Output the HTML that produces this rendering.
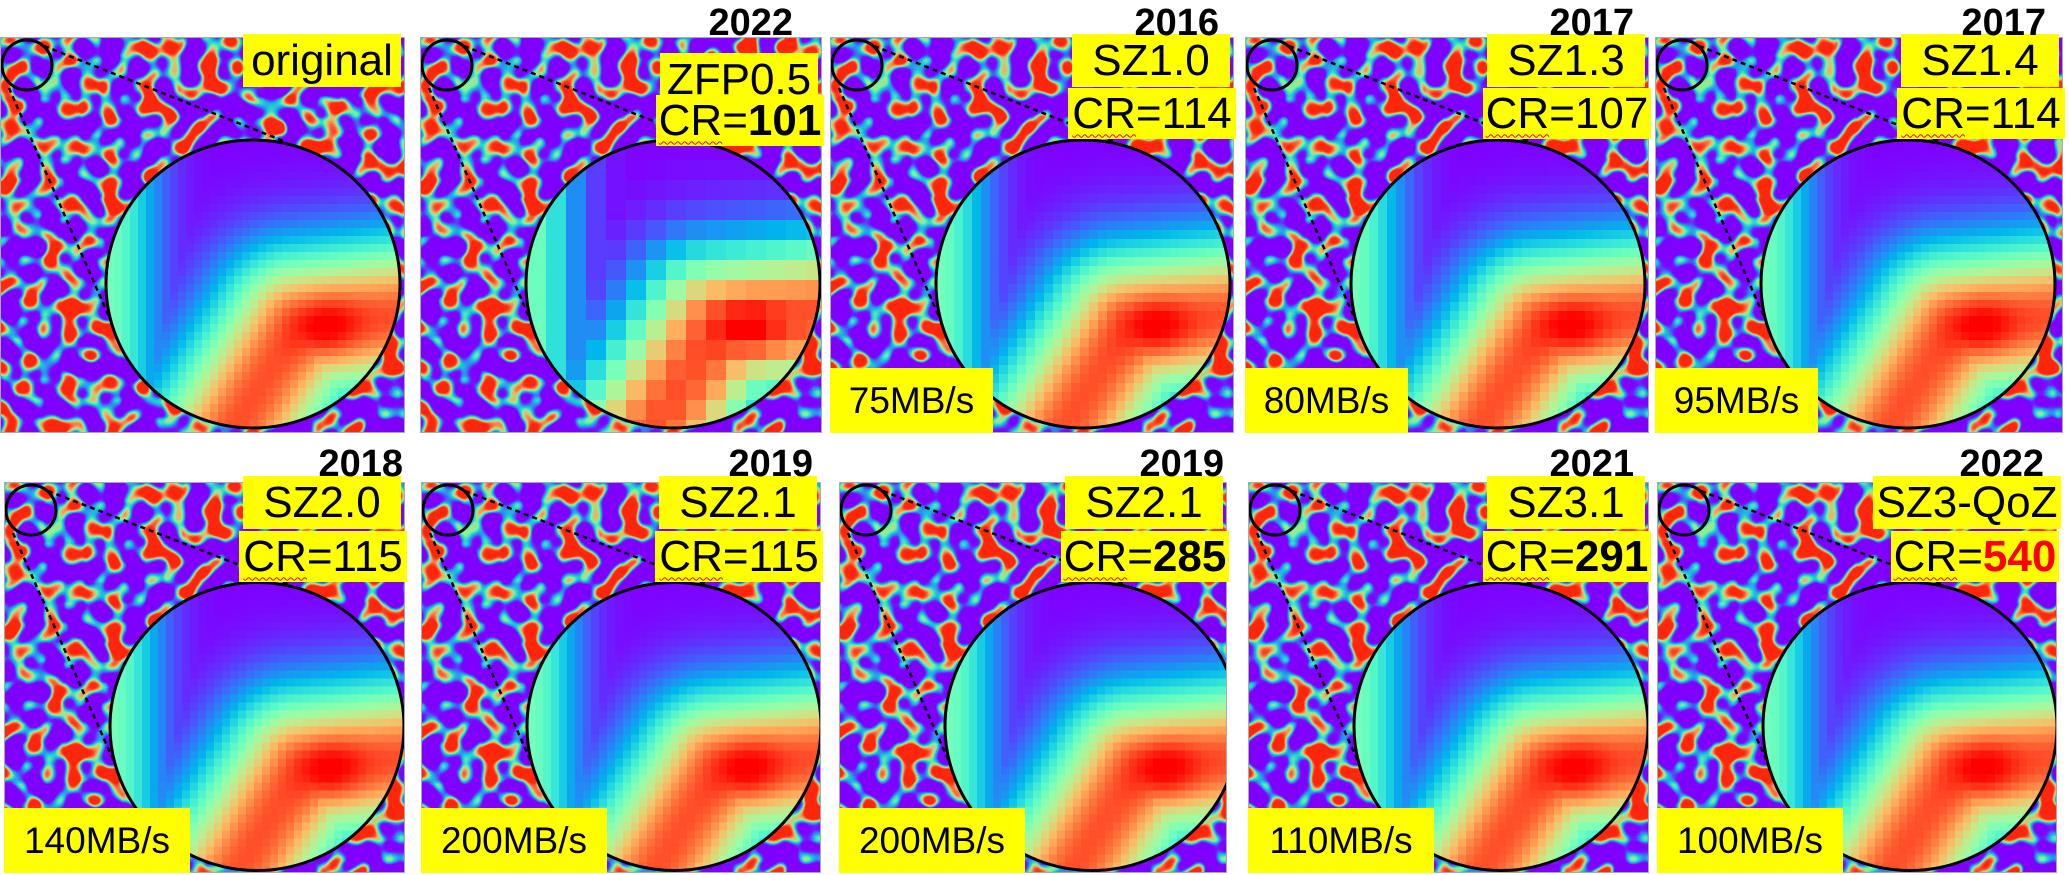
<!DOCTYPE html>
<html><head><meta charset="utf-8">
<style>
html,body{margin:0;padding:0;background:#fff;}
body{width:2069px;height:875px;position:relative;overflow:hidden;font-family:"Liberation Sans",sans-serif;}
.panel{position:absolute;border:1px solid #aaa;box-sizing:border-box;overflow:hidden;}
.panel svg{position:absolute;left:0;top:0;}
.box{position:absolute;background:#ffff00;color:#000;display:flex;align-items:center;justify-content:center;white-space:nowrap;line-height:1;}
.name{font-size:44px;}
.cr{font-size:44px;}
.cr .w{text-decoration:underline wavy #e00;text-decoration-thickness:1px;text-underline-offset:6px;}
.speed{font-size:37px;}
.year{position:absolute;font-weight:bold;font-size:38px;line-height:1;color:#000;}
</style></head>
<body>
<svg width="0" height="0" style="position:absolute">
<defs>
<filter id="tex" filterUnits="userSpaceOnUse" x="0" y="0" width="420" height="420" color-interpolation-filters="sRGB">
<feTurbulence type="fractalNoise" baseFrequency="0.05" numOctaves="1" seed="7" result="t"/>
<feColorMatrix type="matrix" values="1 0 0 0 0 1 0 0 0 0 1 0 0 0 0 0 0 0 0 1"/>
<feComponentTransfer>
<feFuncR type="linear" slope="4" intercept="-1.55"/><feFuncG type="linear" slope="4" intercept="-1.55"/><feFuncB type="linear" slope="4" intercept="-1.55"/>
</feComponentTransfer>
<feComponentTransfer>
<feFuncR type="table" tableValues="0.5 0.5 0.5 0.5 0.45 0.2 0.1 0.5 0.95 1 1"/>
<feFuncG type="table" tableValues="0 0 0 0 0.1 0.5 0.8 0.97 0.7 0.35 0.15"/>
<feFuncB type="table" tableValues="1 1 1 1 1 0.95 0.85 0.6 0.4 0.2 0.05"/>
</feComponentTransfer>
</filter>
</defs>
</svg>
<script>
// panel label data
const names=["original","ZFP0.5","SZ1.0","SZ1.3","SZ1.4","SZ2.0","SZ2.1","SZ2.1","SZ3.1","SZ3-QoZ"];
const years=["","2022","2016","2017","2017","2018","2019","2019","2021","2022"];
const crs=["","101","114","107","114","115","115","285","291","540"];
const crBold=[false,true,false,false,false,false,false,true,true,true];
const speeds=["","","75MB/s","80MB/s","95MB/s","140MB/s","200MB/s","200MB/s","110MB/s","100MB/s"];
// layout
const PX=[0,420,830,1245,1655,4,421,839,1248,1657];
const PY=[37,37,37,37,37,482,482,482,482,482];
const PW=[405,402,404,404,408,401,400,388,401,400];
const PH=[396,396,396,396,396,391,391,391,391,391];
const yearRight=[0,29,15,15,17,2,8,3,15,13];
const cell=[8,20,9,9,8,8,8,8,8,8];
const NS="http://www.w3.org/2000/svg";
function cmap(t){t=Math.max(0,Math.min(1,t));
 const r=Math.min(1,Math.abs(2*t-0.5)),g=Math.sin(Math.PI*t),b=Math.cos(Math.PI*t/2);
 return "rgb("+Math.round(r*255)+","+Math.round(g*255)+","+Math.round(b*255)+")";}
function segd(px,py,ax,ay,bx,by){const dx=bx-ax,dy=by-ay;let t=((px-ax)*dx+(py-ay)*dy)/(dx*dx+dy*dy);t=Math.max(0,Math.min(1,t));const x=ax+t*dx-px,y=ay+t*dy-py;return Math.sqrt(x*x+y*y);}
function field(u,v){
 const d=Math.min(segd(u,v,1.2,0.2,0.3,0.3),segd(u,v,0.3,0.3,-0.25,1.2));
 let val=0.9*Math.exp(-Math.pow(d/0.55,2));
 const pk=0.12*Math.exp(-(Math.pow(u-0.5,2)+Math.pow(v-0.3,2))/0.05);
 val+=pk;
 const left=0.48*Math.exp(-Math.pow((u+1)/0.35,2));
 const low=0.18*Math.max(0,Math.min(1,(v+0.1)*2))*Math.max(0,Math.min(1,(0.3-u)*2));
 return Math.max(val,left,low);
}
for(let i=0;i<10;i++){
 const p=document.createElement('div');
 p.className='panel';
 
 
 p.style.left=PX[i]+'px';p.style.top=PY[i]+'px';p.style.width=PW[i]+'px';p.style.height=PH[i]+'px';
 const w=PW[i],h=PH[i];
 const s=document.createElementNS(NS,'svg');
 s.setAttribute('width',w);s.setAttribute('height',h);
 
 
 const bg=document.createElementNS(NS,'rect');
 bg.setAttribute('x',0);bg.setAttribute('y',0);bg.setAttribute('width',w);bg.setAttribute('height',h);
 bg.setAttribute('fill','#8000ff');bg.setAttribute('filter','url(#tex)');
 
 
 s.appendChild(bg);
 const cx=252,cy=h/2+48,rx=147,ry=144;
 const cp=document.createElementNS(NS,'clipPath');cp.setAttribute('id','cp'+i);
 const ce=document.createElementNS(NS,'ellipse');ce.setAttribute('cx',cx);ce.setAttribute('cy',cy);ce.setAttribute('rx',rx);ce.setAttribute('ry',ry);
 cp.appendChild(ce);s.appendChild(cp);
 const g=document.createElementNS(NS,'g');g.setAttribute('clip-path','url(#cp'+i+')');
 
 
 const c=cell[i];
 for(let y=cy-ry;y<cy+ry;y+=c){for(let x=cx-rx;x<cx+rx;x+=c){
  const u=(x+c/2-cx)/rx,v=(y+c/2-cy)/ry;
  const r=document.createElementNS(NS,'rect');
  r.setAttribute('x',x);r.setAttribute('y',y);r.setAttribute('width',c+0.6);r.setAttribute('height',c+0.6);
  r.setAttribute('fill',cmap(field(u,v)));
  g.appendChild(r);}}
 s.appendChild(g);
 const el=document.createElementNS(NS,'ellipse');
 el.setAttribute('cx',cx);el.setAttribute('cy',cy);el.setAttribute('rx',rx);el.setAttribute('ry',ry);
 el.setAttribute('fill','none');el.setAttribute('stroke','#000');el.setAttribute('stroke-width','3');
 
 
 s.appendChild(el);
 const sc=document.createElementNS(NS,'ellipse');
 sc.setAttribute('cx',26);sc.setAttribute('cy',27);sc.setAttribute('rx',25);sc.setAttribute('ry',25);
 sc.setAttribute('fill','none');sc.setAttribute('stroke','#000');sc.setAttribute('stroke-width','3');
 
 
 s.appendChild(sc);
 const lines=[[43,8,285,cy-ry+2],[8,50,cx-rx+4,cy+35]];
 lines.forEach(function(L){const l=document.createElementNS(NS,'line');
  l.setAttribute('x1',L[0]);l.setAttribute('y1',L[1]);l.setAttribute('x2',L[2]);l.setAttribute('y2',L[3]);
  l.setAttribute('stroke','#000');l.setAttribute('stroke-width','2.5');l.setAttribute('stroke-dasharray','5 4');
  
  
  s.appendChild(l);});
 p.appendChild(s);
 document.body.appendChild(p);
 const row2=i>=5;
 const nb=document.createElement('div');nb.className='box name';
 
 
 let nw=158,nt=row2?-6:-3;
 if(i===1)nt=16;
 if(i===9)nw=188;
 nb.style.width=nw+'px';nb.style.height='53px';
 nb.style.left=(PX[i]+w-(i===9?-4:4)-nw)+'px';nb.style.top=(PY[i]+nt)+'px';
 nb.textContent=names[i];
 document.body.appendChild(nb);
 if(crs[i]){
  const cb=document.createElement('div');cb.className='box cr';
  
  
  const ct=row2?49:(i===1?58:51);
  cb.style.width='168px';cb.style.height='51px';
  cb.style.left=(PX[i]+w-166)+'px';cb.style.top=(PY[i]+ct)+'px';
  const val=crBold[i]?'<b'+(i===9?' style="color:#f00"':'')+'>'+crs[i]+'</b>':crs[i];
  cb.innerHTML='<span class="w">CR</span>='+val;
  document.body.appendChild(cb);
 }
 if(years[i]){
  const yr=document.createElement('div');yr.className='year';
  
  
  yr.style.right=(2069-(PX[i]+w-yearRight[i]))+'px';
  yr.style.top=(PY[i]+(row2?-37:-33))+'px';
  yr.textContent=years[i];
  document.body.appendChild(yr);
 }
 if(speeds[i]){
  const sb=document.createElement('div');sb.className='box speed';
  
  
  sb.style.width=(row2?186:163)+'px';sb.style.height='65px';
  sb.style.left=PX[i]+'px';sb.style.top=(PY[i]+h-65)+'px';
  sb.textContent=speeds[i];
  document.body.appendChild(sb);
 }
}
</script>
</body></html>
